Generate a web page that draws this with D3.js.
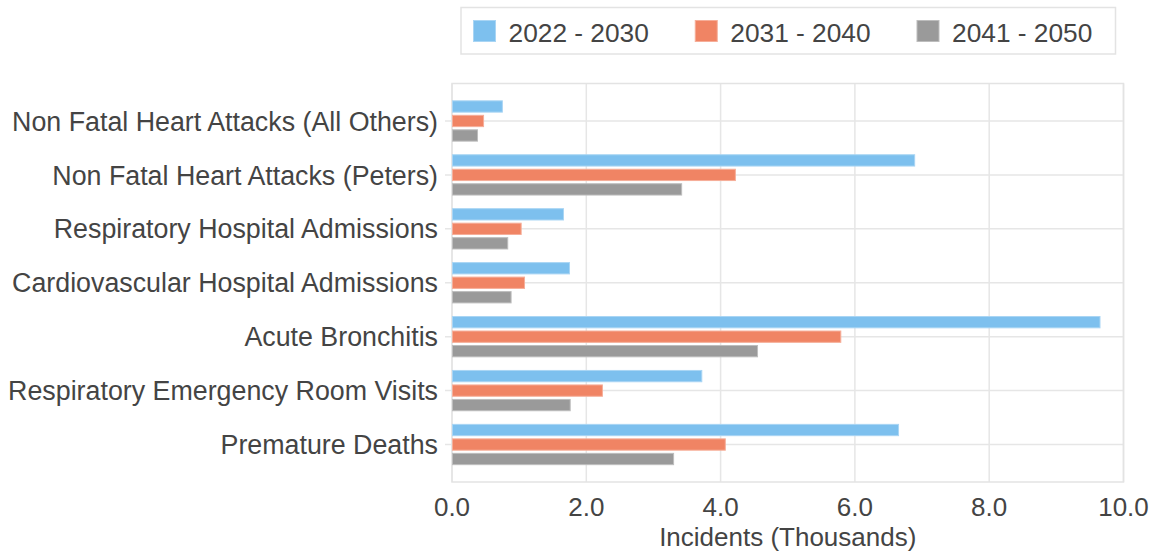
<!DOCTYPE html>
<html>
<head>
<meta charset="utf-8">
<script src="https://cdn.jsdelivr.net/npm/d3@7"></script>
<style>
  html, body { margin: 0; padding: 0; background: #fff; overflow: hidden; }
  text { font-family: "Liberation Sans", Arial, sans-serif; fill: #444; }
</style>
</head>
<body>
<svg id="chart" width="1151" height="558"></svg>
<script>
const categories = [
  "Non Fatal Heart Attacks (All Others)",
  "Non Fatal Heart Attacks (Peters)",
  "Respiratory Hospital Admissions",
  "Cardiovascular Hospital Admissions",
  "Acute Bronchitis",
  "Respiratory Emergency Room Visits",
  "Premature Deaths"
];
const seriesNames = ["2022 - 2030", "2031 - 2040", "2041 - 2050"];
const values2022 = [0.75, 6.89, 1.66, 1.75, 9.65, 3.72, 6.65];
const values2031 = [0.47, 4.22, 1.03, 1.08, 5.79, 2.24, 4.07];
const values2041 = [0.38, 3.42, 0.83, 0.88, 4.55, 1.76, 3.30];
const xTicks = [0, 2, 4, 6, 8, 10];
const xTitle = "Incidents (Thousands)";

const colors = ["#7dc0ee", "#f08464", "#9a9a9a"];
const strokes = ["#a9d5f4", "#f6ae99", "#bdbdbd"];
const seriesValues = [values2022, values2031, values2041];

const svg = d3.select("#chart");
const plot = { left: 452, right: 1123.5, top: 83.5, bottom: 482 };

const x = d3.scaleLinear().domain([0, 10]).range([plot.left, plot.right]);
const y = d3.scaleBand().domain(categories).range([plot.top, plot.bottom])
  .paddingInner(0).paddingOuter(0.195);
const ySub = d3.scaleBand().domain(d3.range(seriesNames.length)).range([0, y.bandwidth()])
  .paddingInner(0.22).paddingOuter(0.47);

const grid = svg.append("g");
grid.selectAll("line.v").data(xTicks).join("line")
  .attr("x1", d => x(d)).attr("x2", d => x(d))
  .attr("y1", plot.top).attr("y2", plot.bottom)
  .attr("stroke", "#e6e6e6").attr("stroke-width", 1.5);
grid.selectAll("line.h").data(categories).join("line")
  .attr("x1", plot.left - 7).attr("x2", plot.right)
  .attr("y1", d => y(d) + y.bandwidth() / 2).attr("y2", d => y(d) + y.bandwidth() / 2)
  .attr("stroke", "#e6e6e6").attr("stroke-width", 1.5);
svg.append("rect")
  .attr("x", plot.left).attr("y", plot.top)
  .attr("width", plot.right - plot.left).attr("height", plot.bottom - plot.top)
  .attr("fill", "none").attr("stroke", "#e3e3e3").attr("stroke-width", 1.5);

const rows = categories.map((c, i) => ({ c, vals: seriesValues.map(s => s[i]) }));
const groups = svg.append("g").selectAll("g").data(rows).join("g")
  .attr("transform", d => `translate(0,${y(d.c)})`);
groups.selectAll("rect").data(d => d.vals.map((v, k) => ({ v, k }))).join("rect")
  .attr("x", x(0) + 0.5)
  .attr("y", d => ySub(d.k))
  .attr("width", d => x(d.v) - x(0) - 0.5)
  .attr("height", ySub.bandwidth())
  .attr("fill", d => colors[d.k])
  .attr("stroke", d => strokes[d.k])
  .attr("stroke-width", 1);

svg.append("g").selectAll("text").data(categories).join("text")
  .attr("x", 438)
  .attr("y", d => y(d) + y.bandwidth() / 2)
  .attr("dy", "0.36em")
  .attr("text-anchor", "end")
  .attr("font-size", 26.8)
  .text(d => d);

svg.append("g").selectAll("text").data(xTicks).join("text")
  .attr("x", d => x(d))
  .attr("y", 516)
  .attr("text-anchor", "middle")
  .attr("font-size", 26)
  .text(d => d3.format(".1f")(d));

svg.append("text")
  .attr("x", (plot.left + plot.right) / 2)
  .attr("y", 545.5)
  .attr("text-anchor", "middle")
  .attr("font-size", 26)
  .text(xTitle);

const legend = svg.append("g");
legend.append("rect")
  .attr("x", 461).attr("y", 7.5).attr("width", 654.5).attr("height", 46.5)
  .attr("fill", "#fff").attr("stroke", "#e3e3e3").attr("stroke-width", 1.5);
const legX = d3.scalePoint().domain(seriesNames).range([473.5, 917]);
const items = legend.selectAll("g.item").data(seriesNames).join("g")
  .attr("transform", d => `translate(${legX(d)},0)`);
items.append("rect")
  .attr("x", 0).attr("y", 20.5).attr("width", 22).attr("height", 21)
  .attr("fill", (d, i) => colors[i])
  .attr("stroke", (d, i) => strokes[i]).attr("stroke-width", 1);
items.append("text")
  .attr("x", 35).attr("y", 41.5)
  .attr("font-size", 26.3)
  .text(d => d);
</script>
</body>
</html>
